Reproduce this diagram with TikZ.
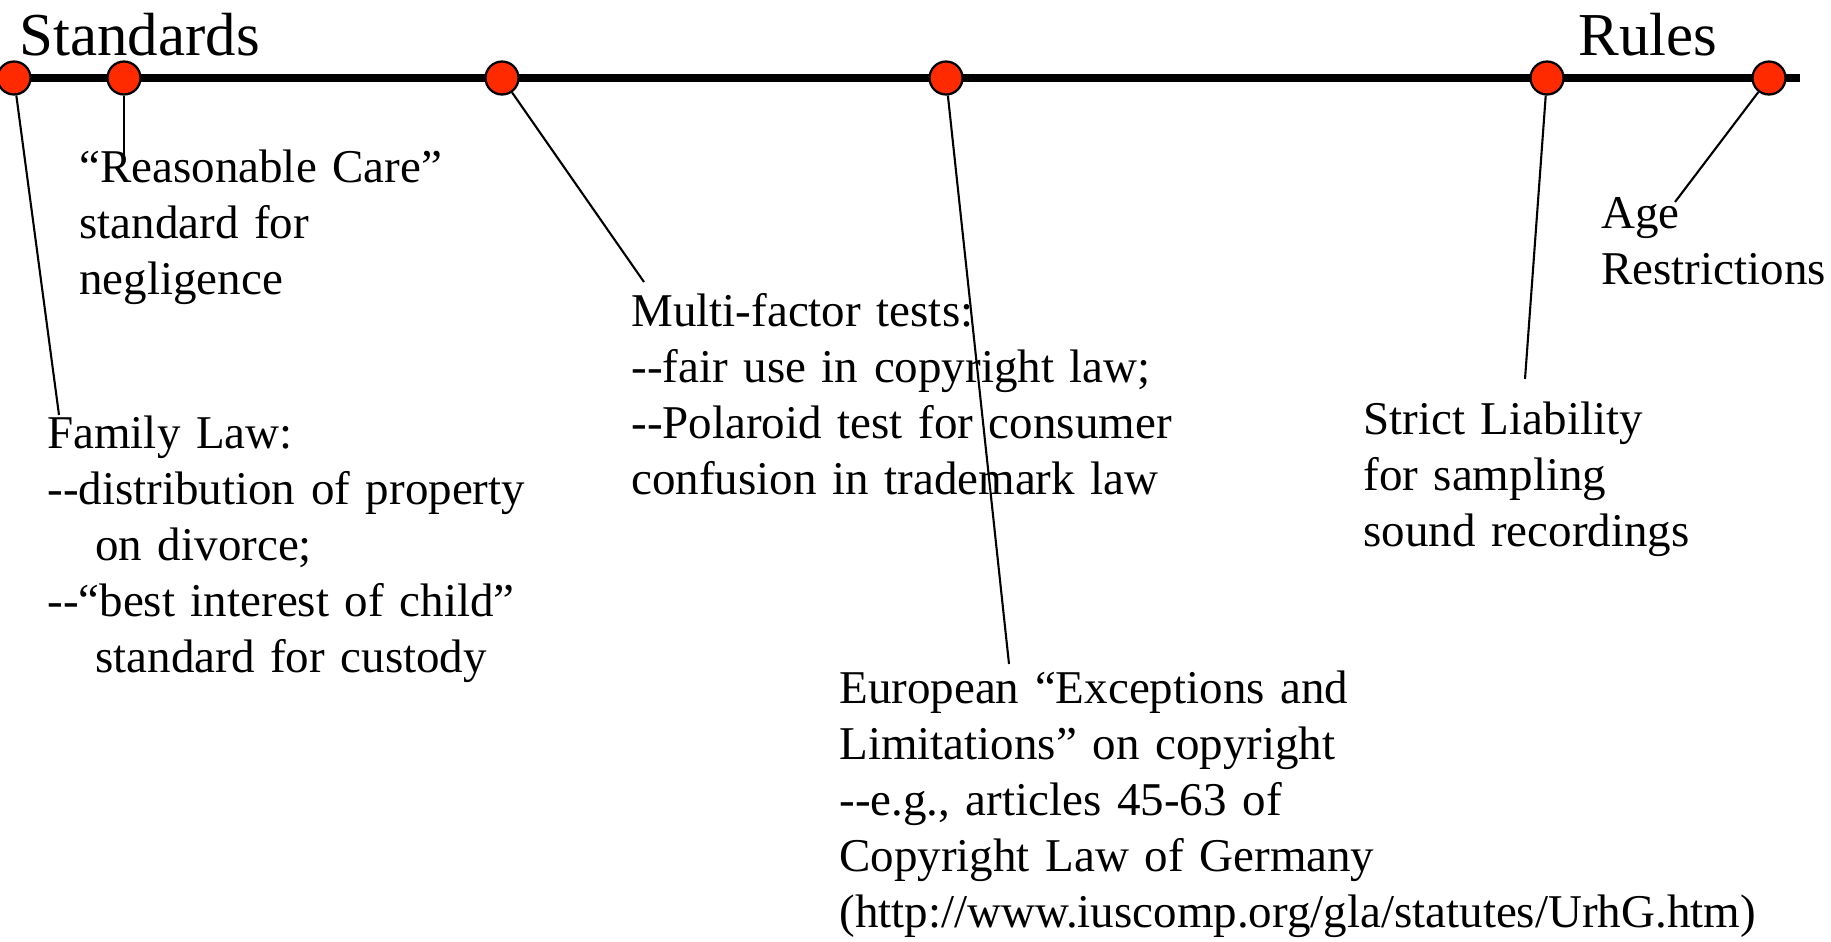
\documentclass[tikz,border=0pt]{standalone}
\usepackage{fontspec}
\setmainfont{Liberation Serif}
\usetikzlibrary{shapes.geometric,calc}
\definecolor{dotred}{RGB}{255,42,0}

\begin{document}
\begin{tikzpicture}[x=0.02cm, y=-0.02cm]
    \useasboundingbox (0,0) rectangle (1831,941);
    \tikzset{DotStyle/.style = {circle, draw, fill=dotred, line width=0.045cm,
        minimum size=0.66cm, inner sep=0pt},
      TextStyle/.style = {anchor=base west, inner sep=0pt, text width=12cm, align=left,
        font=\fontsize{26.75}{31.9}\selectfont},
      TitleStyle/.style = {anchor=base west, inner sep=0pt,
        font=\fontsize{34.7}{40}\selectfont},
      LinkStyle/.style = {line width=0.042cm}}
    % axis
    \coordinate (start) at (0,78);
    \coordinate (stop) at (1800,78);
    \draw[line width=0.155cm] (start) -- (stop);
    \node[TitleStyle] (standards) at (19,55) {Standards};
    \node[TitleStyle] (rules) at (1578,55) {Rules};
    % dots
    \node[DotStyle] (family) at (14,78) {};
    \node[DotStyle] (care) at (124,78) {};
    \node[DotStyle] (factor) at (502,78) {};
    \node[DotStyle] (europe) at (946,78) {};
    \node[DotStyle] (strict) at (1547,78) {};
    \node[DotStyle] (age) at (1769,78) {};
    % labels
    \node[TextStyle] (careText) at (79,182) {“Reasonable Care”\\standard for\\negligence};
    \node[TextStyle] (familyText) at (47,448) {Family Law:\\-\kern0pt-distribution of property\\
      \hspace*{0.96cm}on divorce;\\-\kern0pt-“best interest of child”\\
      \hspace*{0.96cm}standard for custody};
    \node[TextStyle] (factorText) at (631,326) {Multi-factor tests:\\-\kern0pt-fair use in copyright law;\\
      -\kern0pt-Polaroid test for consumer\\confusion in trademark law};
    \node[TextStyle] (europeText) at (839,703) {European “Exceptions and\\Limitations” on copyright\\
      -\kern0pt-e.g., articles 45-63 of\\Copyright Law of Germany\\(http://www.iuscomp.org/gla/statutes/UrhG.htm)};
    \node[TextStyle] (strictText) at (1363,434) {Strict Liability\\for sampling\\sound recordings};
    \node[TextStyle] (ageText) at (1601,228) {Age\\Restrictions};
    % pointer ends
    \coordinate (familyEnd) at (59,415);
    \coordinate (careEnd) at (124,155);
    \coordinate (factorEnd) at (644,282);
    \coordinate (europeEnd) at (1009,664);
    \coordinate (strictEnd) at (1525,379);
    \coordinate (ageEnd) at (1675,202);
    \draw[LinkStyle] (family) -- (familyEnd);
    \draw[LinkStyle] (care) -- (careEnd);
    \draw[LinkStyle] (factor) -- (factorEnd);
    \draw[LinkStyle] (europe) -- (europeEnd);
    \draw[LinkStyle] (strict) -- (strictEnd);
    \draw[LinkStyle] (age) -- (ageEnd);
\end{tikzpicture}
\end{document}
